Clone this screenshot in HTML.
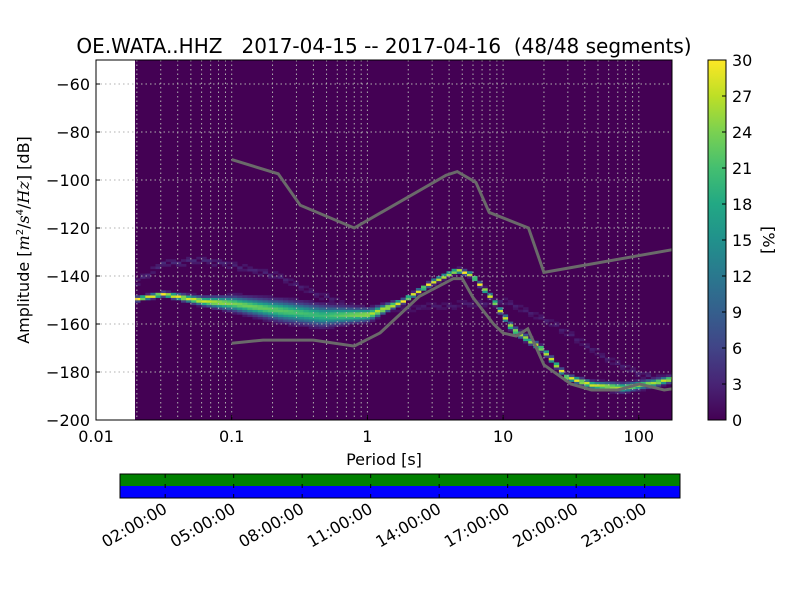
<!DOCTYPE html>
<html><head><meta charset="utf-8"><style>
body{margin:0;background:#fff;}
svg{display:block;font-family:"DejaVu Sans","Liberation Sans",sans-serif;}
</style></head><body>
<svg id="chart" width="800" height="600" viewBox="0 0 800 600">
<defs>
<linearGradient id="vir" x1="0" y1="1" x2="0" y2="0">
<stop offset="0" stop-color="#440154"/><stop offset="0.1" stop-color="#482475"/><stop offset="0.2" stop-color="#414487"/><stop offset="0.3" stop-color="#355f8d"/><stop offset="0.4" stop-color="#2a788e"/><stop offset="0.5" stop-color="#21918c"/><stop offset="0.6" stop-color="#22a884"/><stop offset="0.7" stop-color="#44bf70"/><stop offset="0.8" stop-color="#7ad151"/><stop offset="0.9" stop-color="#bddf26"/><stop offset="1" stop-color="#fde725"/>
</linearGradient>
<clipPath id="plotclip"><rect x="96" y="60" width="576" height="360"/></clipPath>
</defs>
<text x="384" y="53" font-size="20" text-anchor="middle" style="white-space:pre">OE.WATA..HHZ   2017-04-15 -- 2017-04-16  (48/48 segments)</text>
<rect x="135" y="60" width="537" height="360" fill="#440154"/>
<g id="cells" clip-path="url(#plotclip)"></g>
<g id="grid"></g>
<g id="models" clip-path="url(#plotclip)"></g>
<rect x="96" y="60" width="576" height="360" fill="none" stroke="#000" stroke-width="1"/>
<g id="axes"></g>
<text x="384" y="465" font-size="16" text-anchor="middle">Period [s]</text>
<text transform="translate(29,240) rotate(-90)" font-size="16" text-anchor="middle">Amplitude [<tspan font-family="DejaVu Serif,serif" font-style="italic">m</tspan><tspan font-size="10" dy="-6">2</tspan><tspan dy="6">/</tspan><tspan font-family="DejaVu Serif,serif" font-style="italic">s</tspan><tspan font-size="10" dy="-6">4</tspan><tspan dy="6">/</tspan><tspan font-family="DejaVu Serif,serif" font-style="italic">Hz</tspan>] [dB]</text>
<rect x="708" y="60" width="18" height="360" fill="url(#vir)" stroke="#000"/>
<g id="cbticks"></g>
<text transform="translate(763,240) rotate(90)" font-size="16" text-anchor="middle">[%]</text>
<g>
<rect x="120" y="474" width="560" height="12" fill="#008000"/>
<rect x="120" y="486" width="560" height="12" fill="#0000ff"/>
<rect x="120" y="474" width="560" height="24" fill="none" stroke="#000"/>
<g id="tl"></g>
</g>
</svg>
<script>
const NS="http://www.w3.org/2000/svg";
// mode curve (period s, dB)
const modePeriods=[0.0194,0.03,0.06,0.1,0.23,0.45,1,1.75,2.9,4.4,5.6,8,11.2,18.7,28,44,74,124,178];
const modeDb=[-150,-148,-151,-152,-155,-157,-156.5,-151,-143,-138,-140,-150,-162.5,-171,-182.5,-186,-187,-185,-183];
const modePeak=[30,30,28,24,22,20,26,30,30,30,30,30,26,28,30,28,26,26,30];
const modeWidth=[0.8,0.8,1.5,2.5,3.5,3.5,2,0.8,0.8,0.8,0.8,0.8,1.2,1,0.9,1.3,1.5,1.3,1];
// faint secondary band (period s, dB)
const faintPeriods=[0.0194,0.03,0.06,0.1,0.2,0.35,0.6,1,10,15,25,40,70,120,178];
const faintDb=[-143,-135,-134,-136,-140,-146,-152,-155,-151,-156,-162,-170,-178,-183,-182];
const faintVal=[3,3.5,3.5,3,3,2.5,2.5,2,2.5,2.5,2.5,2.5,2.5,3,3];
const cbTicks=[0,3,6,9,12,15,18,21,24,27,30];
const yTicks=[-60,-80,-100,-120,-140,-160,-180,-200];
const xTicks=[0.01,0.1,1,10,100];
const xTickLabels=["0.01","0.1","1","10","100"];
const nhnmP=[0.1,0.22,0.32,0.8,3.8,4.6,6.3,7.9,15.4,20,178];
const nhnmDb=[-91.5,-97.4,-110.5,-120,-98,-96.5,-101,-113.5,-120,-138.5,-129];
const nlnmP=[0.1,0.17,0.4,0.8,1.24,2.4,4.3,5,6,8.5,10,12.5,15.2,20,31.6,45,70,101,154,178];
const nlnmDb=[-168,-166.7,-166.7,-169.2,-163.7,-148.6,-141.1,-141.1,-149,-160,-163.8,-165,-162,-177,-185,-187.5,-187.5,-185,-187.5,-187];
const tlLabels=["02:00:00","05:00:00","08:00:00","11:00:00","14:00:00","17:00:00","20:00:00","23:00:00"];
const tlHours=[2,5,8,11,14,17,20,23];

const X0=96,DEC=135.7,Y0=420,PXDB=2.4;
const xOf=p=>X0+(Math.log10(p)+2)*DEC;
const yOf=d=>Y0-(d+200)*PXDB;
function interp(P,V,p){const lp=Math.log10(p);
 if(p<=P[0])return V[0];
 for(let i=1;i<P.length;i++){if(p<=P[i]){const a=Math.log10(P[i-1]),b=Math.log10(P[i]);const t=(lp-a)/(b-a);return V[i-1]+t*(V[i]-V[i-1]);}}
 return V[V.length-1];}
const vs=[[68,1,84],[72,36,117],[65,68,135],[53,95,141],[42,120,142],[33,145,140],[34,168,132],[68,191,112],[122,209,81],[189,223,38],[253,231,37]];
function vir(v){let t=Math.max(0,Math.min(1,v/30))*10;const i=Math.min(9,Math.floor(t));const f=t-i;
 const c=vs[i].map((x,k)=>Math.round(x+f*(vs[i+1][k]-x)));return `rgb(${c[0]},${c[1]},${c[2]})`;}
function el(tag,attrs,parent){const e=document.createElementNS(NS,tag);for(const k in attrs)e.setAttribute(k,attrs[k]);parent.appendChild(e);return e;}

const cells=document.getElementById('cells');
const colW=DEC*Math.log10(2)/8;
for(let c=0;;c++){
 const p=0.0194*Math.pow(2,c/8);const x=xOf(p);if(x>672)break;
 const m=interp(modePeriods,modeDb,p),pk=interp(modePeriods,modePeak,p),w=interp(modePeriods,modeWidth,p);
 const f=interp(faintPeriods,faintDb,p),fv=interp(faintPeriods,faintVal,p);
 const vals={};
 const mr=Math.round(m);
 for(let d=-Math.ceil(w*2);d<=Math.ceil(w*2);d++){const v=pk*Math.exp(-Math.pow((mr+d-m)/w,2));if(v>1.5)vals[mr+d]=v;}
 const fr=Math.round(f);
 for(let d=-1;d<=1;d++){if((c+d)%3===0)continue;const v=fv*Math.exp(-d*d/2);if(v>1.2)vals[fr+d]=Math.max(vals[fr+d]||0,v);}
 for(const k in vals){const r=el('rect',{x:x.toFixed(1),y:yOf(+k+1).toFixed(1),width:(colW+0.3).toFixed(1),height:PXDB+0.3,fill:vir(vals[k])},cells);
  
  }
}
// grid
const grid=document.getElementById('grid');
for(let e=-2;e<=2;e++)for(let k=1;k<=9;k++){const p=k*Math.pow(10,e);const x=xOf(p);if(x<=X0+0.5||x>=672)continue;
 const l=el('line',{x1:x,y1:60,x2:x,y2:420,stroke:'#b0b0b0','stroke-dasharray':'1.5,3','stroke-width':1},grid);
 
 }
yTicks.forEach(d=>{const y=yOf(d);const l=el('line',{x1:96,y1:y,x2:672,y2:y,stroke:'#b0b0b0','stroke-dasharray':'1.5,3'},grid);
 
 });
// models
const models=document.getElementById('models');
function line(P,D,name){const pts=P.map((p,i)=>xOf(p).toFixed(1)+','+yOf(D[i]).toFixed(1)).join(' ');
 const pl=el('polyline',{points:pts,fill:'none',stroke:'#6a6a6a','stroke-width':3},models);
 
 }
line(nhnmP,nhnmDb,'high-noise-model-line');
line(nlnmP,nlnmDb,'low-noise-model-line');
// axes
const axes=document.getElementById('axes');
yTicks.forEach(d=>{const y=yOf(d);el('line',{x1:96,y1:y,x2:100,y2:y,stroke:'#000'},axes);
 const t=el('text',{x:90,y:y+6,'font-size':16,'text-anchor':'end'},axes);t.textContent='\u2212'+(-d);
 
 });
xTicks.forEach((p,i)=>{const x=xOf(p);el('line',{x1:x,y1:420,x2:x,y2:415,stroke:'#000'},axes);
 const t=el('text',{x:x,y:442,'font-size':16,'text-anchor':'middle'},axes);t.textContent=xTickLabels[i];
 
 });
const cb=document.getElementById('cbticks');
cbTicks.forEach(v=>{const y=420-v/30*360;el('line',{x1:722,y1:y,x2:726,y2:y,stroke:'#000'},cb);
 const t=el('text',{x:732,y:y+6,'font-size':16},cb);t.textContent=v;
 
 });
const tl=document.getElementById('tl');
tlHours.forEach((h,i)=>{const x=120+h*68.5/3-0.5;
 el('line',{x1:x,y1:474,x2:x,y2:478,stroke:'#000'},tl);el('line',{x1:x,y1:494,x2:x,y2:498,stroke:'#000'},tl);
 el('line',{x1:x,y1:484,x2:x,y2:488,stroke:'#000'},tl);
 const t=el('text',{'font-size':16,'text-anchor':'end',transform:`translate(${x+3},${512}) rotate(-30)`},tl);t.textContent=tlLabels[i];
 
 });
</script>
</body></html>
